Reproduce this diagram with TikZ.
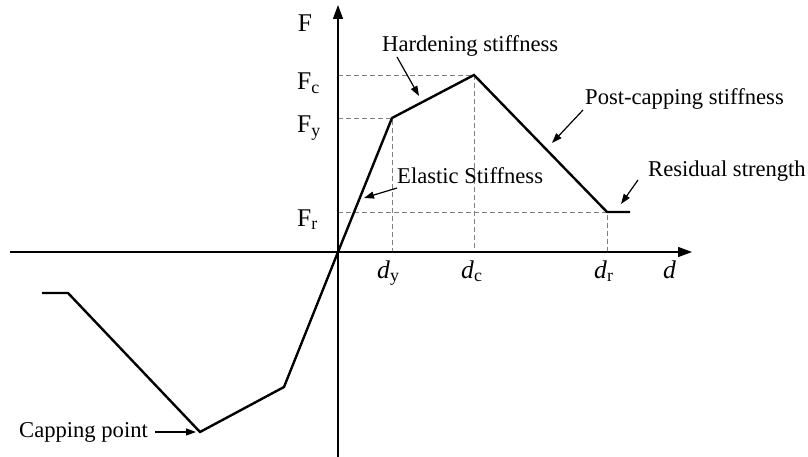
\documentclass[tikz,border=0pt]{standalone}
\usepackage{fontspec}
\setmainfont{Liberation Serif}
\usetikzlibrary{arrows.meta}
\begin{document}
\begin{tikzpicture}[x=1pt,y=-1pt,
  axis/.style={line width=1.3pt,-{Triangle[length=14pt,width=10pt]}},
  curve/.style={line width=2.4pt,line join=miter},
  guide/.style={gray,line width=0.7pt,dash pattern=on 5pt off 3pt},
  lbl/.style={font=\fontsize{22.6}{26}\selectfont,inner sep=0pt},
  axlbl/.style={font=\fontsize{25.5}{28}\selectfont,inner sep=0pt},
  pointer/.style={line width=1.2pt,-{Triangle[length=10pt,width=7pt]}}]
\useasboundingbox (0,0) rectangle (808,457);
% key points
\coordinate (O) at (338,252);
\coordinate (Y) at (392,118);
\coordinate (C) at (474,75);
\coordinate (R) at (607,212);
\coordinate (Re) at (630,212);
\coordinate (nY) at (284,387);
\coordinate (nC) at (200,432);
\coordinate (nR) at (68,293);
\coordinate (nRe) at (42,293);
% guides
\draw[guide] (338,75) -- (C) -- (474,252);
\draw[guide] (338,118) -- (Y) -- (392,252);
\draw[guide] (338,212) -- (R) -- (607,252);
% axes
\coordinate (xs) at (10,252);
\coordinate (xe) at (692,252);
\coordinate (ys) at (338,457);
\coordinate (ye) at (338,5);
\draw[axis] (xs) -- (xe);
\draw[axis] (ys) -- (ye);
% curve
\draw[curve] (nRe) -- (nR) -- (nC) -- (nY) -- (O) -- (Y) -- (C) -- (R) -- (Re);
% axis labels
\node[axlbl,anchor=base] (F) at (305,32) {F};
\node[axlbl,anchor=base west] (Fc) at (297,90) {F\textsubscript{c}};
\node[axlbl,anchor=base west] (Fy) at (297,133) {F\textsubscript{y}};
\node[axlbl,anchor=base west] (Fr) at (297,226) {F\textsubscript{r}};
\node[axlbl,anchor=base west] (dy) at (377,278) {\textit{d}\textsubscript{y}};
\node[axlbl,anchor=base west] (dc) at (461,278) {\textit{d}\textsubscript{c}};
\node[axlbl,anchor=base west] (dr) at (594,278) {\textit{d}\textsubscript{r}};
\node[axlbl,anchor=base west] (d) at (663,278) {\textit{d}};
% annotation labels
\node[lbl,anchor=base west] (hs) at (382,52) {Hardening stiffness};
\node[lbl,anchor=base west] (es) at (397,184) {Elastic Stiffness};
\node[lbl,anchor=base west] (ps) at (585,105) {Post-capping stiffness};
\node[lbl,anchor=base west] (rs) at (648,177) {Residual strength};
\node[lbl,anchor=base west] (cp) at (19,437) {Capping point};
% pointer ends
\coordinate (hsA) at (397,57);
\coordinate (hsB) at (419,96);
\coordinate (esA) at (397,188);
\coordinate (esB) at (364,198);
\coordinate (psA) at (583,110);
\coordinate (psB) at (552,143);
\coordinate (rsA) at (638,180);
\coordinate (rsB) at (621,204);
\coordinate (cpA) at (155,432);
\coordinate (cpB) at (196,432);
\draw[pointer] (hsA) -- (hsB);
\draw[pointer] (esA) -- (esB);
\draw[pointer] (psA) -- (psB);
\draw[pointer] (rsA) -- (rsB);
\draw[pointer] (cpA) -- (cpB);
\end{tikzpicture}
\end{document}
